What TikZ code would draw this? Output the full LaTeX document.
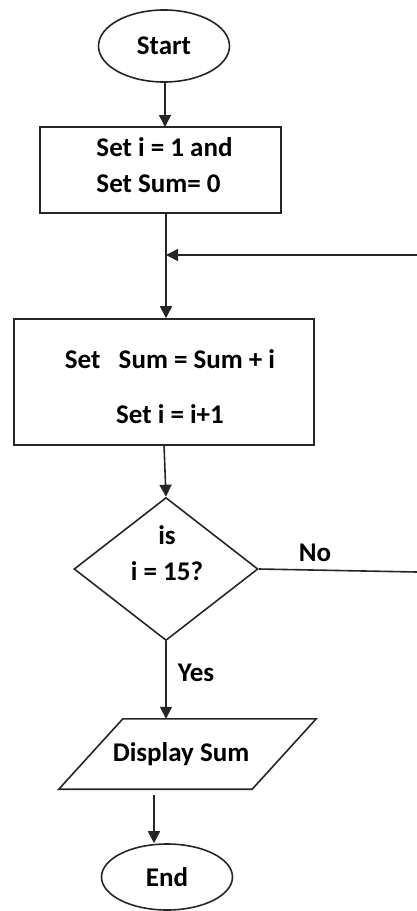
\documentclass[tikz,border=0pt]{standalone}
\usepackage{fontspec}
\setmainfont{Carlito}
\usetikzlibrary{shapes.geometric,arrows.meta}
\begin{document}
\begin{tikzpicture}[x=1pt,y=-1pt,
  every node/.style={font=\fontsize{27}{36}\selectfont\bfseries, text=black},
  line/.style={draw=black!85, line width=1.6pt},
  arr/.style={line, -{Triangle[width=12pt,length=12pt]}},
  term/.style={ellipse, line, fill=white, inner sep=0pt},
  procbox/.style={rectangle, line, inner sep=0pt},
  decide/.style={diamond, line, inner sep=0pt, minimum width=184pt, minimum height=143pt},
  lbl/.style={inner sep=0pt}]
\useasboundingbox (0,0) rectangle (417,911);
\node[term, minimum width=131pt, minimum height=72pt] (start) at (164,46) {Start};
\node[procbox, minimum width=241pt, minimum height=86pt,
  label={[lbl, align=left, yshift=5pt, xshift=4pt]center:Set i = 1 and\\Set Sum= 0}] (init) at (160.5,170) {};
\node[procbox, minimum width=300pt, minimum height=126pt,
  label={[lbl, align=center, yshift=-5pt, xshift=6pt]center:Set\ \ \ Sum = Sum + i\\[19pt]Set i = i+1}] (upd) at (164,382) {};
\node[decide] (dia) at (166,569) {};
\node[lbl, align=center] (diatext) at (167,553) {is\\i = 15?};
\node[inner sep=0pt, minimum width=193pt, minimum height=70pt] (disp) at (181,754) {Display Sum};
\draw[line] ([xshift=-25.5pt]disp.south west) -- ([xshift=38.5pt]disp.north west) -- ([xshift=38.5pt]disp.north east) -- ([xshift=-25.5pt]disp.south east) -- cycle;
\node[term, minimum width=131pt, minimum height=66pt] (end) at (167,877) {End};
\coordinate (join) at (166,255);
\coordinate (loopin) at (417,255);
\coordinate (noend) at (417,572);
\draw[arr] (start.south -| 165,0) -- (165,127);
\draw[line] (join |- init.south) -- (join);
\draw[arr] (join) -- (join |- upd.north);
\draw[arr] (loopin) -- (join);
\draw[arr] (164,445) -- (dia.north);
\draw[line] (dia.east) -- (noend);
\node[lbl] (no) at (315,553) {No};
\draw[arr] (dia.south) -- (dia.south |- disp.north);
\node[lbl] (yes) at (196,673) {Yes};
\draw[arr] (154,795) -- (end.north -| 154,0);
\end{tikzpicture}
\end{document}
